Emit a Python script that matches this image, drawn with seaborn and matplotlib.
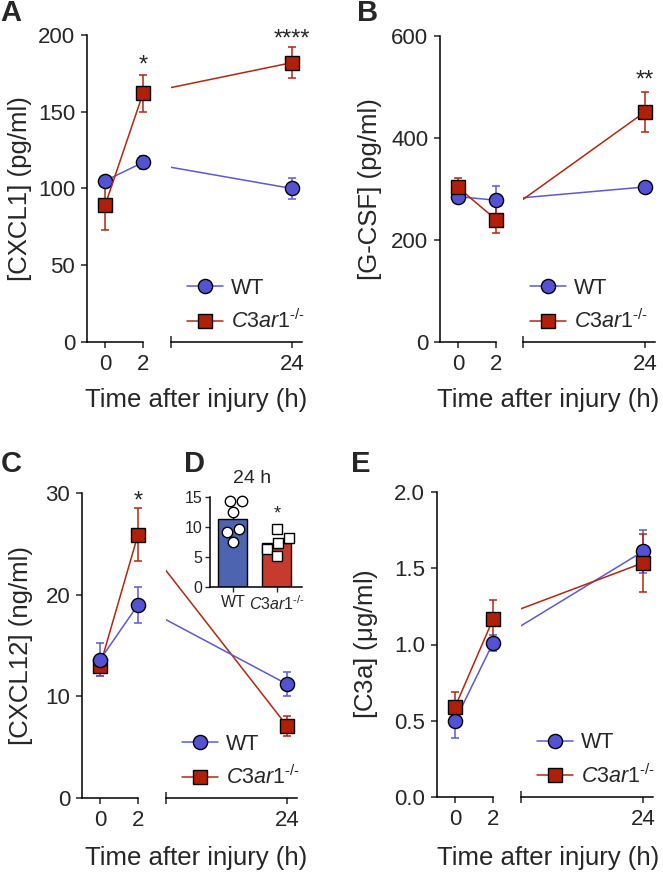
import numpy as np
import pandas as pd
import matplotlib
matplotlib.use("Agg")
import matplotlib.pyplot as plt
from matplotlib.lines import Line2D
import seaborn as sns

# ---------------- data ----------------
times = [0, 2, 24]

A_wt = [105, 117, 100]
A_wt_err = [3, 4, 7]
A_ko = [89, 162, 182]
A_ko_err = [16, 12, 10]

B_wt = [285, 278, 304]
B_wt_err = [8, 27, 10]
B_ko = [303, 240, 451]
B_ko_err = [19, 27, 39]

C_wt = [13.6, 19.0, 11.2]
C_wt_err = [1.6, 1.8, 1.2]
C_ko = [13.0, 25.9, 7.1]
C_ko_err = [1.0, 2.6, 1.0]

E_wt = [0.50, 1.01, 1.61]
E_wt_err = [0.115, 0.05, 0.14]
E_ko = [0.59, 1.165, 1.535]
E_ko_err = [0.10, 0.13, 0.19]

D_groups = ["WT", "KO"]
D_wt = [14.4, 14.4, 12.5, 9.6, 9.2, 7.5]
D_ko = [9.6, 8.1, 7.3, 6.4, 5.2]

A_yticks = [0, 50, 100, 150, 200]
B_yticks = [0, 200, 400, 600]
C_yticks = [0, 10, 20, 30]
E_yticks = [0.0, 0.5, 1.0, 1.5, 2.0]
D_yticks = [0, 5, 10, 15]

# ---------------- style ----------------
sns.set_style("ticks")
plt.rcParams["font.family"] = ["Liberation Sans", "DejaVu Sans"]
plt.rcParams["mathtext.fontset"] = "custom"
plt.rcParams["mathtext.rm"] = "Liberation Sans"
plt.rcParams["mathtext.it"] = "Liberation Sans:italic"
plt.rcParams["axes.linewidth"] = 1.1
plt.rcParams["axes.edgecolor"] = "black"

W, H = 663, 873
fig = plt.figure(figsize=(W / 100, H / 100), dpi=100)

WT_FACE = "#5252d2"
WT_LINE = "#5a5ad8"
KO_FACE = "#b02008"
KO_LINE = "#b4260e"
BAR_BLUE = "#3c5cc0"
BAR_RED = "#e12414"
KO_LABEL = "$\\mathit{C3ar1}^{\\mathit{\u2010/\u2010}}$"

XL_LIM = (-0.95, 2.0)
XR_LIM = (6.13, 25.48)
MS = 10.2


def rect(x0, y0, x1, y1):
    return [x0 / W, 1 - y1 / H, (x1 - x0) / W, (y1 - y0) / H]


def draw_series(ax, m, e, face, line, marker, n, clip):
    t = times[:n]
    mm = m[:n]
    ee = e[:n]
    eb = ax.errorbar(t, mm, yerr=ee, fmt="none", ecolor=line, elinewidth=1.1,
                     capsize=3, capthick=1.1, zorder=2)
    for a in eb.get_children():
        a.set_clip_on(clip)
    sns.lineplot(x=t, y=mm, ax=ax, color=line, lw=1.1, marker=marker,
                 markersize=MS if marker == "o" else MS - 0.4,
                 markerfacecolor=face, markeredgecolor="black",
                 markeredgewidth=1.0, clip_on=clip, zorder=3, legend=False)


def panel(left, right, wt, wte, ko, koe, yticks, ylabel, ylab_x, fmt=None,
          order="wt_first"):
    axL = fig.add_axes(rect(*left))
    axR = fig.add_axes(rect(*right))
    ymax = yticks[-1]
    series = [(wt, wte, WT_FACE, WT_LINE, "o"), (ko, koe, KO_FACE, KO_LINE, "s")]
    if order == "ko_first":
        series = series[::-1]
    for ax, n, clip in [(axL, 2, False), (axR, 3, True)]:
        for m, e, f, l, mk in series:
            draw_series(ax, m, e, f, l, mk, n, clip)
        ax.set_ylim(0, ymax)
        ax.set_xlabel("")
        ax.set_ylabel("")
        ax.spines["top"].set_visible(False)
        ax.spines["right"].set_visible(False)
    axL.set_xlim(*XL_LIM)
    axR.set_xlim(*XR_LIM)
    # left segment
    axL.set_yticks(yticks)
    if fmt:
        axL.set_yticklabels([fmt.format(v) for v in yticks])
    axL.set_xticks([0, 2])
    axL.set_xticklabels(["0", "2"])
    axL.set_xticks([2], minor=True)
    axL.tick_params(which="major", direction="out", length=4.5, width=1.1,
                    labelsize=16, pad=4)
    axL.tick_params(which="minor", axis="x", direction="in", length=4.5, width=1.1)
    axL.tick_params(which="minor", axis="y", length=0)
    # right segment
    axR.spines["left"].set_visible(False)
    axR.set_yticks([])
    axR.set_xticks([24])
    axR.set_xticklabels(["24"])
    axR.set_xticks([XR_LIM[0]], minor=True)
    axR.tick_params(which="major", direction="out", length=4.5, width=1.1,
                    labelsize=16, pad=4)
    axR.tick_params(which="minor", axis="x", direction="inout", length=8, width=1.1)
    axR.patch.set_alpha(0)
    axL.patch.set_alpha(0)
    axL.set_ylabel(ylabel, fontsize=18.5)
    axL.yaxis.set_label_coords((ylab_x - left[0]) / (left[2] - left[0]), 0.5)
    return axL, axR


def legend(x, y):
    handles = [
        Line2D([], [], color=WT_LINE, lw=1.1, marker="o", markersize=MS,
               markerfacecolor=WT_FACE, markeredgecolor="black", markeredgewidth=1.0),
        Line2D([], [], color=KO_LINE, lw=1.1, marker="s", markersize=MS - 0.4,
               markerfacecolor=KO_FACE, markeredgecolor="black", markeredgewidth=1.0),
    ]
    fig.legend(handles, ["WT", KO_LABEL], loc="center left",
               bbox_to_anchor=(x / W, 1 - y / H), frameon=False, fontsize=15.5,
               handlelength=1.65, handletextpad=0.4, borderpad=0,
               borderaxespad=0, labelspacing=0.5)


def xlabel(x, y):
    fig.text(x / W, 1 - y / H, "Time after injury (h)", fontsize=18.5,
             ha="center", va="center")


def letter(x, y, s):
    fig.text(x / W, 1 - y / H, s, fontsize=21, fontweight="bold",
             ha="left", va="top")


# ---------------- Panel A ----------------
aL, aR = panel((87, 35, 143, 342), (171, 35, 302, 342), A_wt, A_wt_err, A_ko,
               A_ko_err, A_yticks, "[CXCL1] (pg/ml)", 32)
aL.text(2, 176, "*", fontsize=17, ha="center", va="baseline", clip_on=False)
aR.text(24, 193, "****", fontsize=17, ha="center", va="baseline", clip_on=False)
legend(187, 305.5)
xlabel(196, 400)
letter(0, -1, "A")

# ---------------- Panel B ----------------
bL, bR = panel((440, 36, 496, 342), (523, 36, 655, 342), B_wt, B_wt_err, B_ko,
               B_ko_err, B_yticks, "[G-CSF] (pg/ml)", 382)
bR.text(24, 501, "**", fontsize=17, ha="center", va="baseline", clip_on=False)
legend(530, 305.5)
xlabel(548, 400)
letter(357, -1, "B")

# ---------------- Panel C ----------------
cL, cR = panel((82, 493, 138, 798), (166, 493, 297, 798), C_wt, C_wt_err, C_ko,
               C_ko_err, C_yticks, "[CXCL12] (ng/ml)", 33, order="ko_first")
cL.text(2, 28.6, "*", fontsize=17, ha="center", va="baseline", clip_on=False)
legend(182, 761.5)
xlabel(196, 858)
letter(1, 450, "C")

# ---------------- Panel E ----------------
eL, eR = panel((437, 492, 493, 797), (521, 492, 653, 797), E_wt, E_wt_err, E_ko,
               E_ko_err, E_yticks, r"[C3a] ($\mathrm{\mu}$g/ml)", 380, fmt="{:.1f}")
legend(537, 760)
xlabel(548, 858)
letter(351, 450, "E")

# ---------------- Panel D (inset) ----------------
dax = fig.add_axes(rect(210, 497, 302, 587))
df = pd.DataFrame({
    "group": ["WT"] * len(D_wt) + ["KO"] * len(D_ko),
    "value": D_wt + D_ko,
})
sns.barplot(data=df, x="group", y="value", hue="group", order=D_groups,
            hue_order=D_groups, palette=[BAR_BLUE, BAR_RED], errorbar="se",
            capsize=0.18, err_kws={"color": "black", "linewidth": 1.0, "zorder": 0.5},
            width=0.66, edgecolor="black", linewidth=1.0, legend=False, ax=dax)
sns.swarmplot(data=df[df.group == "WT"], x="group", y="value", order=D_groups,
              marker="o", color="white", edgecolor="black", linewidth=1.0,
              size=7.5, ax=dax, zorder=3)
sns.swarmplot(data=df[df.group == "KO"], x="group", y="value", order=D_groups,
              marker="s", color="white", edgecolor="black", linewidth=1.0,
              size=7.5, ax=dax, zorder=3)
for coll in dax.collections:
    coll.set_clip_on(False)
dax.set_ylim(0, 15)
dax.set_xlim(-0.52, 1.57)
dax.set_yticks(D_yticks)
dax.set_xticks([0, 1])
dax.set_xticklabels(["WT", KO_LABEL])
dax.set_xlabel("")
dax.set_ylabel("")
dax.spines["top"].set_visible(False)
dax.spines["right"].set_visible(False)
dax.patch.set_alpha(0)
dax.tick_params(direction="out", length=3.5, width=1.0, labelsize=11.5, pad=2)
dax.text(1, 11.4, "*", fontsize=13, ha="center", va="baseline")
fig.text(252 / W, 1 - 478 / H, "24 h", fontsize=14, ha="center", va="center")
letter(184, 450, "D")

fig.savefig("out.png", dpi=100)
